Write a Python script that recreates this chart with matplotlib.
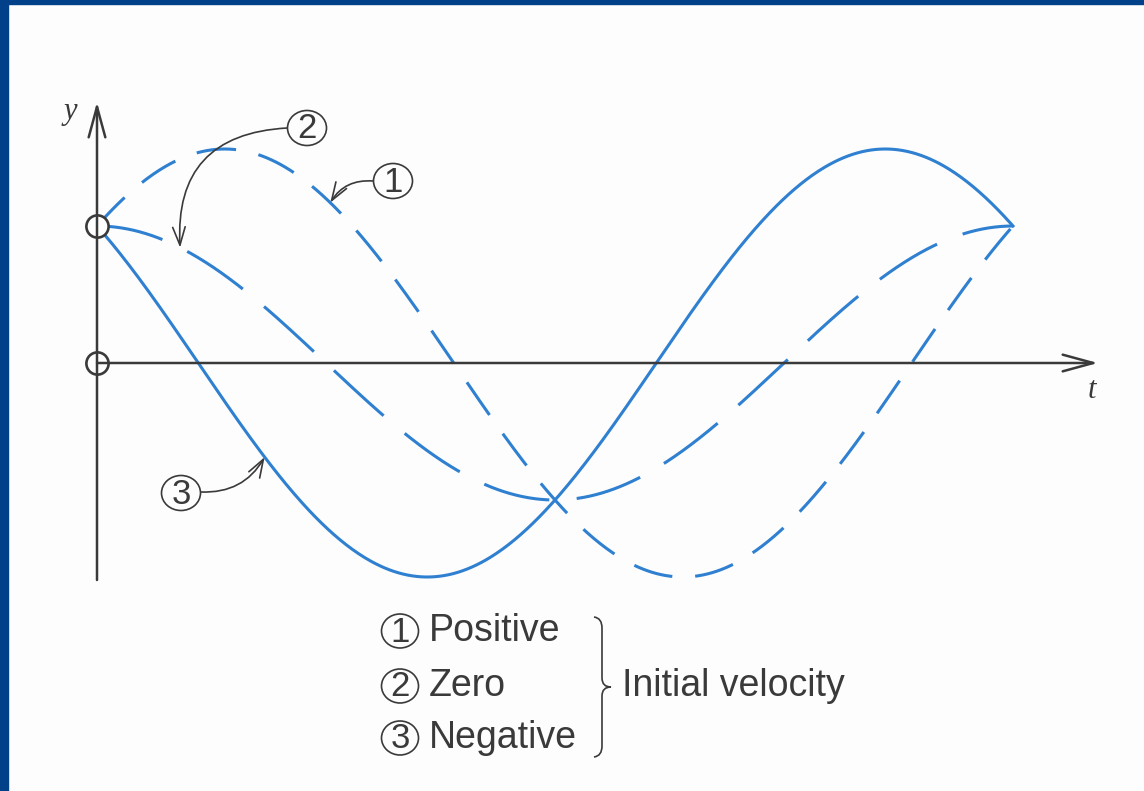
import numpy as np
import matplotlib
matplotlib.use('Agg')
import matplotlib.pyplot as plt
from matplotlib.patches import Ellipse, Rectangle, FancyArrowPatch, PathPatch
from matplotlib.path import Path

# undamped oscillator, three initial velocities, same initial displacement
x0 = 1.0
omega = 1.0
v0 = {'1': 1.2, '2': 0.0, '3': -1.2}
labels = ['Positive', 'Zero', 'Negative']
t = np.linspace(0, 2*np.pi/omega, 600)


def disp(tt, v):
    return x0*np.cos(omega*tt) + v/omega*np.sin(omega*tt)


# layout in pixels
W, H = 1144, 791
ox, oy = 97, 363           # origin of the t/y axes
sx = 916/(2*np.pi)         # px per unit of t
sy = 137                   # px per unit of y

blue = '#2f80d0'
ink = '#3a3a3a'
serif = 'Liberation Serif'
sans = ['Liberation Sans', 'DejaVu Sans']

fig = plt.figure(figsize=(W/100, H/100), dpi=100, facecolor='#fdfdfd')
ax = fig.add_axes([0, 0, 1, 1])
ax.set_xlim(-ox/sx, (W-ox)/sx)
ax.set_ylim((oy-H)/sy, oy/sy)
ax.axis('off')

# overlay in pixel coordinates for annotations
px = fig.add_axes([0, 0, 1, 1])
px.set_xlim(0, W)
px.set_ylim(H, 0)
px.axis('off')
px.patch.set_alpha(0)

# frame stripes
px.add_patch(Rectangle((0, 0), 8, H, color='#00418a', zorder=10))
px.add_patch(Rectangle((0, 0), W, 4, color='#00418a', zorder=10))

# axes with open arrow heads
head = dict(arrowstyle='->,head_length=22,head_width=6', color=ink, lw=1.8,
            mutation_scale=1, shrinkA=0, shrinkB=0, zorder=2)
px.add_patch(FancyArrowPatch((ox, 580), (ox, 102), **head))
px.add_patch(FancyArrowPatch((ox, oy), (1098, oy), **head))
px.text(70, 111, 'y', family=serif, style='italic', fontsize=22,
        color=ink, ha='center', va='center')
px.text(1092, 391, 't', family=serif, style='italic', fontsize=22,
        color=ink, ha='center', va='center')

# the three responses
ax.plot(t, disp(t, v0['1']), color=blue, lw=2.2, dashes=(13, 7.5), zorder=3)
ax.plot(t, disp(t, v0['2']), color=blue, lw=2.2, dashes=(22, 9), zorder=3)
ax.plot(t, disp(t, v0['3']), color=blue, lw=2.2, zorder=3)

# initial displacement and zero markers
ax.plot([0, 0], [x0, 0], ls='none', marker='o', ms=16, mfc='white',
        mec=ink, mew=1.9, zorder=5)


def circled(x, y, s, w=39, h=35):
    px.add_patch(Ellipse((x, y), w, h, fc='none', ec=ink, lw=1.2, zorder=6))
    px.text(x, y+1, s, family=sans, fontsize=25, color=ink,
            ha='center', va='center', zorder=6)


callouts = [('1', (393, 181), (373, 181), 1.60, 0.3),
            ('2', (307, 128), (287, 128), 0.57, 0.5),
            ('3', (181, 493), (201, 492), 1.15, 0.3)]
for key, c, start, tt, rad in callouts:
    circled(c[0], c[1], key)
    ax.annotate('', xy=(tt, disp(tt, v0[key])), xycoords='data',
                xytext=start, textcoords=px.transData,
                arrowprops=dict(arrowstyle='->,head_length=13,head_width=4.5',
                                mutation_scale=1, color=ink, lw=1.2,
                                shrinkA=0, shrinkB=0,
                                connectionstyle='arc3,rad=%.2f' % rad),
                zorder=6)

# key below the plot
rows = [631, 686, 738]
for i, (lab, yy) in enumerate(zip(labels, rows)):
    circled(400, yy, str(i+1), w=37, h=34)
    px.text(429, yy, lab, family=sans, fontsize=27, color=ink,
            ha='left', va='center')

verts = [(594, 617), (602, 618), (602, 628),
         (602, 678),
         (602, 687), (611, 687),
         (602, 687), (602, 696),
         (602, 746),
         (602, 756), (594, 757)]
codes = [Path.MOVETO, Path.CURVE3, Path.CURVE3,
         Path.LINETO,
         Path.CURVE3, Path.CURVE3,
         Path.CURVE3, Path.CURVE3,
         Path.LINETO,
         Path.CURVE3, Path.CURVE3]
px.add_patch(PathPatch(Path(verts, codes), fc='none', ec=ink, lw=1.2))
px.text(622, 686, 'Initial velocity', family=sans, fontsize=27, color=ink,
        ha='left', va='center')

fig.savefig('out.png', dpi=100, facecolor=fig.get_facecolor())
